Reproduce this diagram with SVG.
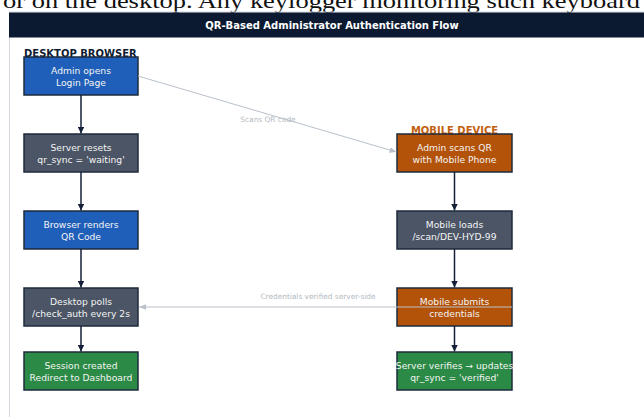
<svg xmlns="http://www.w3.org/2000/svg" width="644" height="417" viewBox="0 0 644 417">
<style>
.box{stroke:#1e2a3c;stroke-width:1.5}
.blue{fill:#1f5fb9}
.slate{fill:#4b5565}
.orange{fill:#b35309}
.green{fill:#2b8a45}
.t{font-family:"DejaVu Sans",sans-serif;font-size:9.2px;fill:#f4f4f4;text-anchor:middle}
.lane{font-family:"DejaVu Sans",sans-serif;font-size:10px;font-weight:bold}
.flow{stroke:#15213a;stroke-width:1.5;fill:none}
.soft{stroke:#b9c0ca;stroke-width:1;fill:none}
.lbl{font-family:"DejaVu Sans",sans-serif;font-size:7.4px;fill:#b3b9c2;text-anchor:middle}
</style>
<defs>
<marker id="ah" viewBox="0 0 10 10" refX="10" refY="5" markerWidth="4.5" markerHeight="4.5" orient="auto" markerUnits="strokeWidth">
<path d="M0,0 L10,5 L0,10 z" fill="#15213a"/>
</marker>
<marker id="ag" viewBox="0 0 10 10" refX="10" refY="5" markerWidth="7" markerHeight="7" orient="auto" markerUnits="strokeWidth">
<path d="M0,1 L10,5 L0,9 z" fill="#b9c0ca"/>
</marker>
</defs>
<rect x="0" y="0" width="644" height="417" fill="#ffffff"/>
<text x="3" y="8" font-family="Liberation Serif, serif" font-size="22" fill="#111111" textLength="637" lengthAdjust="spacingAndGlyphs">or on the desktop. Any keylogger monitoring such keyboard</text>
<g id="panel">
<line x1="9.5" y1="12" x2="9.5" y2="417" stroke="#d3d7dd" stroke-width="1"/>
<line x1="9" y1="12" x2="644" y2="12" stroke="#d3d7dd" stroke-width="1"/>
<rect x="9" y="12.5" width="635" height="25" fill="#0c1a31"/>
<text x="332" y="29" font-family="DejaVu Sans, sans-serif" font-size="10" font-weight="bold" fill="#ffffff" text-anchor="middle">QR-Based Administrator Authentication Flow</text>
<text class="lane" x="24" y="57" fill="#0f1c33">DESKTOP BROWSER</text>
<text class="lane" x="454.5" y="134" fill="#c2600f" text-anchor="middle">MOBILE DEVICE</text>
</g>
<g id="n1"><rect class="box blue" x="24" y="57" width="114" height="38"/><text class="t" x="81" y="74">Admin opens</text><text class="t" x="81" y="86">Login Page</text></g>
<g id="n2"><rect class="box slate" x="24" y="134" width="114" height="38"/><text class="t" x="81" y="151">Server resets</text><text class="t" x="81" y="163">qr_sync = 'waiting'</text></g>
<g id="n3"><rect class="box blue" x="24" y="211" width="114" height="38"/><text class="t" x="81" y="228">Browser renders</text><text class="t" x="81" y="240">QR Code</text></g>
<g id="n4"><rect class="box slate" x="24" y="288" width="114" height="38"/><text class="t" x="81" y="305">Desktop polls</text><text class="t" x="81" y="317">/check_auth every 2s</text></g>
<g id="n5"><rect class="box green" x="24" y="352" width="114" height="38"/><text class="t" x="81" y="369">Session created</text><text class="t" x="81" y="381">Redirect to Dashboard</text></g>
<g id="m1"><rect class="box orange" x="397" y="134" width="115" height="38"/><text class="t" x="454.5" y="151">Admin scans QR</text><text class="t" x="454.5" y="163">with Mobile Phone</text></g>
<g id="m2"><rect class="box slate" x="397" y="211" width="115" height="38"/><text class="t" x="454.5" y="228">Mobile loads</text><text class="t" x="454.5" y="240">/scan/DEV-HYD-99</text></g>
<g id="m3"><rect class="box orange" x="397" y="288" width="115" height="38"/><text class="t" x="454.5" y="305">Mobile submits</text><text class="t" x="454.5" y="317">credentials</text></g>
<g id="m4"><rect class="box green" x="397" y="352" width="115" height="38"/><text class="t" x="454.5" y="369">Server verifies → updates</text><text class="t" x="454.5" y="381">qr_sync = 'verified'</text></g>
<g id="connectors">
<line class="flow" x1="81" y1="95" x2="81" y2="133.5" marker-end="url(#ah)"/>
<line class="flow" x1="81" y1="172" x2="81" y2="210.5" marker-end="url(#ah)"/>
<line class="flow" x1="81" y1="249" x2="81" y2="287.5" marker-end="url(#ah)"/>
<line class="flow" x1="81" y1="326" x2="81" y2="351.5" marker-end="url(#ah)"/>
<line class="flow" x1="454.5" y1="172" x2="454.5" y2="210.5" marker-end="url(#ah)"/>
<line class="flow" x1="454.5" y1="249" x2="454.5" y2="287.5" marker-end="url(#ah)"/>
<line class="flow" x1="454.5" y1="326" x2="454.5" y2="351.5" marker-end="url(#ah)"/>
<line class="soft" x1="138" y1="76" x2="396.5" y2="152" marker-end="url(#ag)"/>
<text class="lbl" x="268" y="122">Scans QR code</text>
<line class="soft" x1="512" y1="307" x2="139" y2="307" marker-end="url(#ag)"/>
<text class="lbl" x="318" y="299">Credentials verified server-side</text>
</g>
</svg>
